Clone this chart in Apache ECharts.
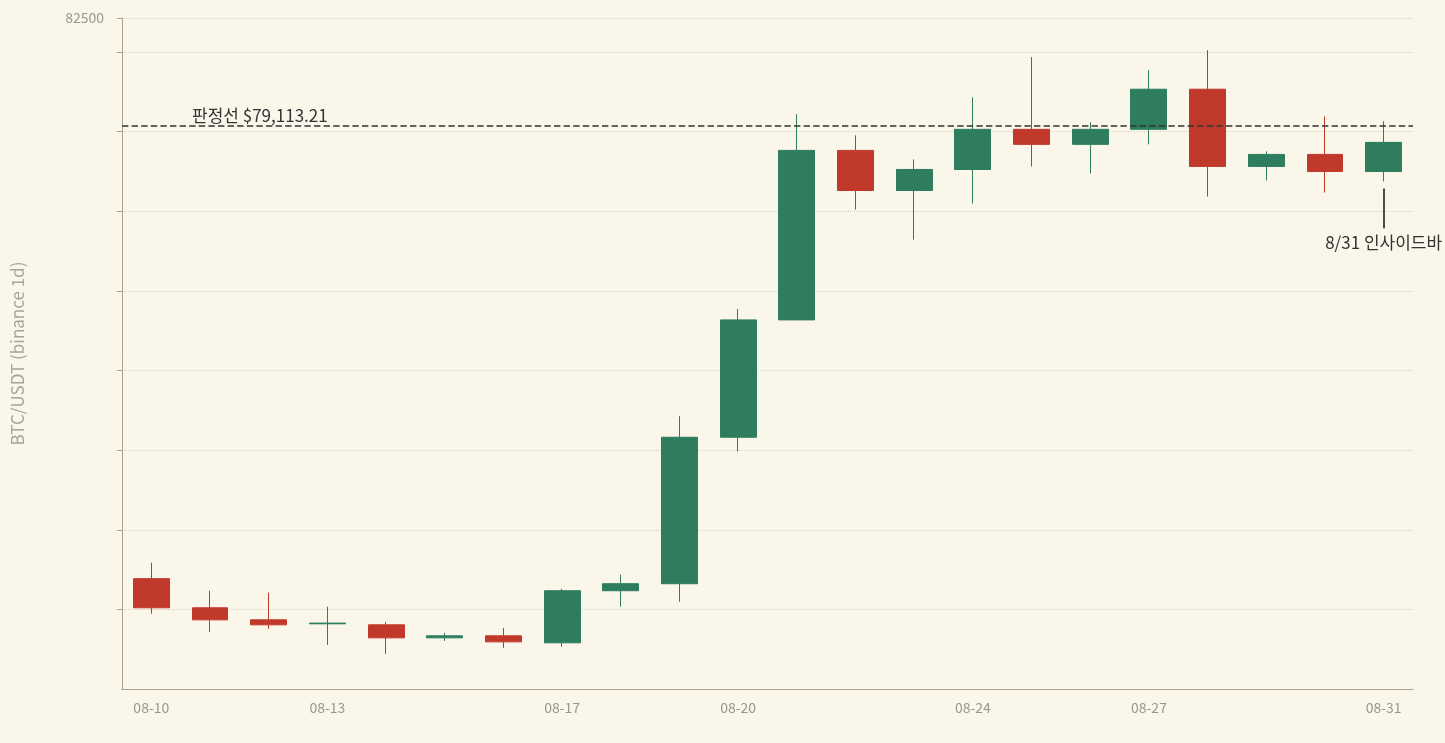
<!DOCTYPE html>
<html><head><meta charset="utf-8">
<script src="https://cdn.jsdelivr.net/npm/echarts@6/dist/echarts.min.js"></script>
<style>html,body{margin:0;padding:0;background:#faf6ea}#c{width:1445px;height:743px}</style>
</head><body><div id="c"></div>
<script>
const dates = ['08-10','08-11','08-12','08-13','08-14','08-15','08-16','08-17','08-18','08-19','08-20','08-21','08-22','08-23','08-24','08-25','08-26','08-27','08-28','08-29','08-30','08-31'];
// [open, close, low, high]
const ohlc = [
[64894,63980,63792,65398],
[63980,63602,63224,64516],
[63602,63445,63320,64453],
[63477,63500,62815,64012],
[63445,63036,62532,63540],
[63036,63100,62940,63193],
[63100,62910,62720,63350],
[62880,64516,62752,64579],
[64516,64736,64012,65020],
[64736,69335,64170,69996],
[69335,73020,68894,73366],
[73020,78343,73020,79476],
[78343,77083,76484,78815],
[77083,77744,75540,78059],
[77744,79004,76673,80012],
[79004,78532,77839,81272],
[78532,79004,77618,79224],
[79004,80264,78532,80862],
[80264,77839,76894,81492],
[77839,78217,77398,78311],
[78217,77681,77020,79413],
[77681,78595,77366,79256]
];
const labelIdx = [0,3,7,10,14,17,21];
const judgeLine = 79113.21;
const font = 'Noto Sans CJK KR';
const chart = echarts.init(document.getElementById('c'));
chart.setOption({
  backgroundColor:'#faf6ea',
  textStyle:{fontFamily:font},
  grid:{left:122,right:32,top:18,bottom:54},
  xAxis:{type:'category',data:dates,boundaryGap:true,
    axisLine:{lineStyle:{color:'#a9a28c'}},
    axisTick:{alignWithLabel:true,length:6,lineStyle:{color:'#a9a28c'},interval:(i)=>labelIdx.includes(i)},
    axisLabel:{color:'#9a968c',fontSize:14,fontFamily:font,margin:12,interval:(i)=>labelIdx.includes(i)},
    splitLine:{show:false}},
  yAxis:{type:'value',min:61430,max:82500,interval:2500,
    name:'BTC/USDT (binance 1d)',nameLocation:'middle',nameGap:96,
    nameTextStyle:{color:'#a8a499',fontSize:17,fontFamily:font},
    axisLine:{show:true,lineStyle:{color:'#a9a28c'}},
    axisTick:{show:true,length:5,lineStyle:{color:'#a9a28c'}},
    axisLabel:{color:'#9a968c',fontSize:14,fontFamily:font,margin:18,showMinLabel:false,
      formatter:v=>(v%2500===0?String(v):'')},
    splitLine:{lineStyle:{color:'#d9d3c3',type:'dotted'}}},
  series:[{
    type:'candlestick',data:ohlc,barWidth:'62%',
    itemStyle:{color:'#2e7d5e',color0:'#c0392b',borderColor:'#2e7d5e',borderColor0:'#c0392b',borderWidth:1},
    markLine:{silent:true,symbol:['none','none'],animation:false,
      data:[
        {yAxis:judgeLine,lineStyle:{color:'#333',type:'dashed',width:1.6},
         label:{show:true,position:'insideStartTop',formatter:'판정선 $79,113.21',color:'#333',fontSize:17,fontFamily:font,distance:[70,2]}},
        [{coord:['08-31',77150],lineStyle:{color:'#222',type:'solid',width:1.6},
          label:{show:true,position:'end',formatter:'8/31 인사이드바',color:'#333',fontSize:17,fontFamily:font,distance:6}},
         {coord:['08-31',75900]}]
      ]}
  }]
});
</script></body></html>
